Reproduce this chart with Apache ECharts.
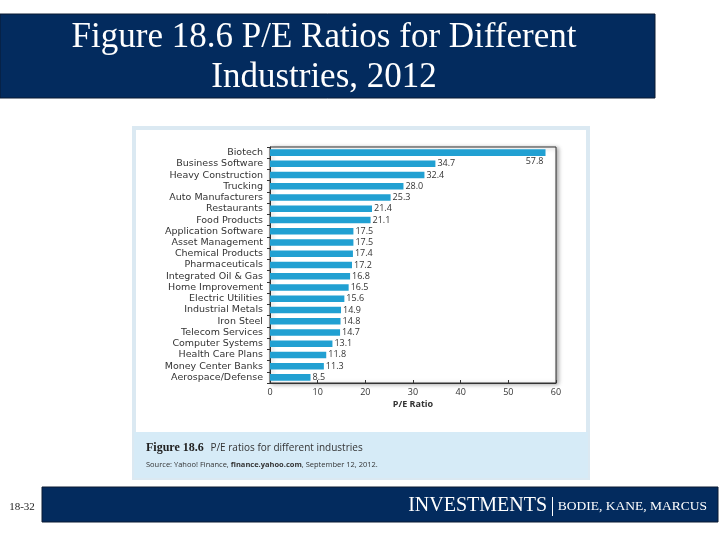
<!DOCTYPE html>
<html>
<head>
<meta charset="utf-8">
<script src="https://cdn.jsdelivr.net/npm/echarts@6/dist/echarts.min.js"></script>
<style>
  html, body { margin: 0; padding: 0; background: #fff; }
  #main { width: 720px; height: 540px; }
</style>
</head>
<body>
<div id="main"></div>
<script>
// industries, top to bottom
const industries = [
  'Biotech', 'Business Software', 'Heavy Construction', 'Trucking',
  'Auto Manufacturers', 'Restaurants', 'Food Products', 'Application Software',
  'Asset Management', 'Chemical Products', 'Pharmaceuticals', 'Integrated Oil & Gas',
  'Home Improvement', 'Electric Utilities', 'Industrial Metals', 'Iron Steel',
  'Telecom Services', 'Computer Systems', 'Health Care Plans', 'Money Center Banks',
  'Aerospace/Defense'
];

// P/E ratios
const peRatios = [
  57.8, 34.7, 32.4, 28.0, 25.3, 21.4, 21.1, 17.5, 17.5, 17.4, 17.2,
  16.8, 16.5, 15.6, 14.9, 14.8, 14.7, 13.1, 11.8, 11.3, 8.5
];

const xTicks = [0, 10, 20, 30, 40, 50, 60];

const navy = '#032b5e';
const sans = '"Open Sans", "Noto Sans", sans-serif';
const wideSans = '"DejaVu Sans", "Noto Sans", sans-serif';
const serif = '"Liberation Serif", "DejaVu Serif", serif';

var myChart = echarts.init(document.getElementById('main'));

const barData = peRatios.map((v, i) => {
  // the biggest bar has its label tucked under its end
  if (i === 0) {
    return {
      value: v,
      label: {
        position: ['100%', '100%'],
        align: 'right',
        verticalAlign: 'top',
        offset: [-2, 1]
      }
    };
  }
  return v;
});

myChart.setOption({
  animation: false,
  graphic: [
    // header
    {
      type: 'rect', shape: { x: 0, y: 14, width: 655, height: 84 },
      style: { fill: navy, stroke: '#0b1a33', lineWidth: 1 }
    },
    {
      type: 'text', x: 324, y: 38,
      style: {
        text: 'Figure 18.6 P/E Ratios for Different', fill: '#fff',
        font: '35px ' + serif, align: 'center', verticalAlign: 'middle'
      }
    },
    {
      type: 'text', x: 324, y: 78,
      style: {
        text: 'Industries, 2012', fill: '#fff',
        font: '35px ' + serif, align: 'center', verticalAlign: 'middle'
      }
    },
    // figure panel with shadow
    {
      type: 'rect', z: -2, shape: { x: 136, y: 130, width: 454, height: 350 },
      style: { fill: '#b9bec4' }
    },
    {
      type: 'rect', z: -1, shape: { x: 134, y: 128, width: 454, height: 350 },
      style: { fill: '#fff', stroke: '#dbe9f2', lineWidth: 4 }
    },
    {
      type: 'rect', z: -1, shape: { x: 134, y: 432, width: 454, height: 46 },
      style: { fill: '#d6ebf7' }
    },
    {
      type: 'text', x: 146, y: 448,
      style: {
        text: '{b|Figure 18.6}  {n|P/E ratios for different industries}',
        verticalAlign: 'middle',
        rich: {
          b: { font: 'bold 12px ' + serif, fill: '#222' },
          n: { font: '10px ' + sans, fill: '#333' }
        }
      }
    },
    {
      type: 'text', x: 146, y: 465,
      style: {
        text: '{n|Source: Yahoo! Finance, }{b|finance.yahoo.com}{n|, September 12, 2012.}',
        verticalAlign: 'middle',
        rich: {
          b: { font: 'bold 7.5px ' + sans, fill: '#333' },
          n: { font: '7.5px ' + sans, fill: '#333' }
        }
      }
    },
    // footer
    {
      type: 'text', x: 22, y: 507,
      style: {
        text: '18-32', fill: '#222', font: '11px ' + serif,
        align: 'center', verticalAlign: 'middle'
      }
    },
    {
      type: 'rect', shape: { x: 42, y: 487, width: 676, height: 35 },
      style: { fill: navy, stroke: '#0b1a33', lineWidth: 1 }
    },
    {
      type: 'text', x: 707, y: 506,
      style: {
        text: '{a|INVESTMENTS} {a||} {b|BODIE, KANE, MARCUS}',
        align: 'right', verticalAlign: 'middle',
        rich: {
          a: { font: '20px ' + serif, fill: '#fff' },
          b: { font: '13.5px ' + serif, fill: '#fff' }
        }
      }
    }
  ],
  grid: {
    left: 270, right: 164, top: 147, bottom: 157,
    show: true, borderColor: '#333', borderWidth: 1, backgroundColor: '#fff',
    shadowColor: 'rgba(0,0,0,0.35)', shadowBlur: 4, shadowOffsetX: 2, shadowOffsetY: 1
  },
  xAxis: {
    type: 'value', min: 0, max: 60, interval: 10,
    name: 'P/E Ratio', nameLocation: 'middle', nameGap: 17,
    nameTextStyle: { fontFamily: sans, fontSize: 9, fontWeight: 'bold', color: '#333' },
    axisLine: { show: true, lineStyle: { color: '#333' } },
    axisTick: { show: true, inside: true, length: 3, lineStyle: { color: '#333' } },
    axisLabel: {
      fontFamily: sans, fontSize: 9, color: '#333', margin: 5,
      formatter: v => xTicks.includes(v) ? String(v) : ''
    },
    splitLine: { show: false }
  },
  yAxis: {
    type: 'category', data: industries, inverse: true,
    axisLine: { show: true, lineStyle: { color: '#333' } },
    axisTick: { show: true, length: 3, interval: 0, lineStyle: { color: '#333' } },
    axisLabel: { fontFamily: wideSans, fontSize: 9.5, color: '#333', margin: 7, interval: 0 }
  },
  series: [
    {
      type: 'bar', data: barData, barWidth: '58%',
      itemStyle: { color: '#21a0d2' },
      label: {
        show: true, position: 'right', distance: 2,
        fontFamily: sans, fontSize: 9, color: '#333',
        formatter: p => p.value.toFixed(1)
      }
    }
  ]
});
</script>
</body>
</html>
